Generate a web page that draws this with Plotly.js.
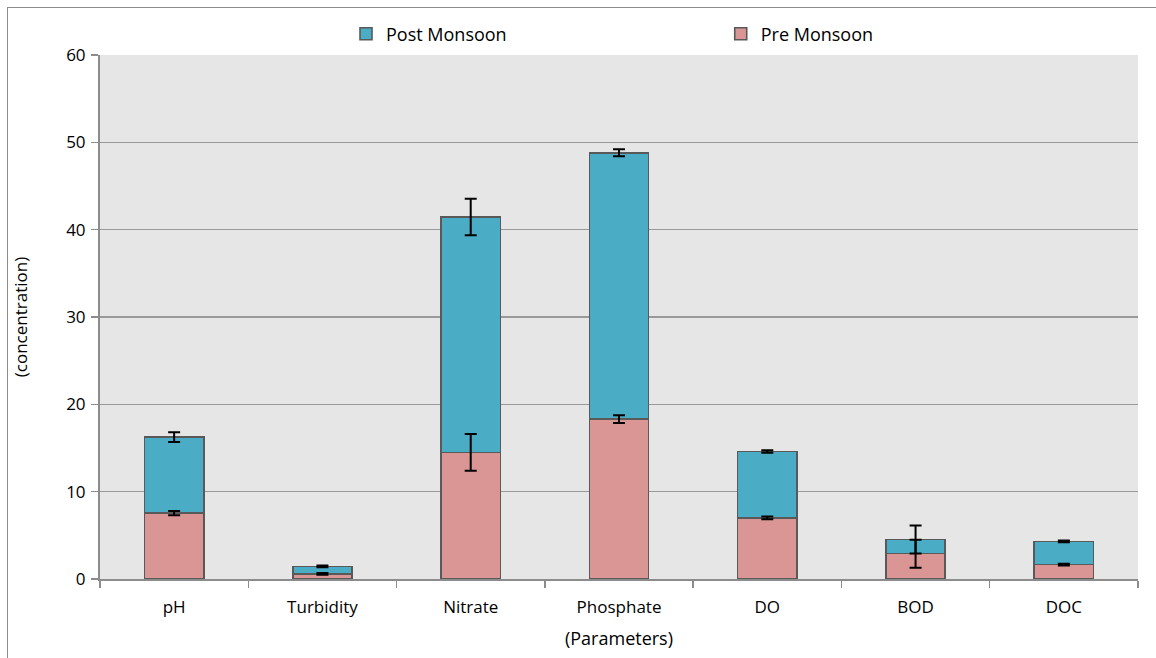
<!DOCTYPE html>
<html>
<head>
<meta charset="utf-8">
<script src="https://cdn.plot.ly/plotly-3.0.1.min.js"></script>
<style>
  html, body { margin: 0; padding: 0; background: #fff; }
  #chart { width: 1156px; height: 658px; position: absolute; left: 0; top: 0; }
  #frame { position: absolute; left: 7px; top: 7px; width: 1160px; height: 660px;
           border-left: 1.5px solid #8c8c8c; border-top: 1.5px solid #8c8c8c;
           pointer-events: none; }
</style>
</head>
<body>
<div id="chart"></div>
<div id="frame"></div>
<script>
const categories = ["pH", "Turbidity", "Nitrate", "Phosphate", "DO", "BOD", "DOC"];
const preMonsoon = [7.55, 0.6, 14.5, 18.3, 7.0, 2.9, 1.65];
const preError = [0.25, 0.1, 2.1, 0.45, 0.15, 1.6, 0.1];
const postMonsoon = [8.7, 0.85, 26.95, 30.5, 7.6, 1.63, 2.65];
const postError = [0.55, 0.1, 2.1, 0.4, 0.15, 1.6, 0.1];
const yTicks = [0, 10, 20, 30, 40, 50, 60];

const stackedTop = preMonsoon.map((v, i) => v + postMonsoon[i]);

const FONT = "'Open Sans', sans-serif";
const SIZE = 17;
const lineStyle = { color: "#595959", width: 1.6 };
const errStyle = { type: "data", visible: true, color: "#000", thickness: 2, width: 6 };

const traces = [
  {
    type: "bar", name: "Pre Monsoon", x: categories, y: preMonsoon, legend: "legend2",
    marker: { color: "#DA9694", line: lineStyle }
  },
  {
    type: "bar", name: "Post Monsoon", x: categories, y: postMonsoon, legend: "legend",
    marker: { color: "#4BACC6", line: lineStyle }
  },
  {
    type: "scatter", mode: "markers", x: categories, y: preMonsoon, showlegend: false,
    marker: { opacity: 0, size: 1 }, error_y: Object.assign({ array: preError }, errStyle)
  },
  {
    type: "scatter", mode: "markers", x: categories, y: stackedTop, showlegend: false,
    marker: { opacity: 0, size: 1 }, error_y: Object.assign({ array: postError }, errStyle)
  }
];

const legendCommon = {
  orientation: "h", yanchor: "middle", y: 1.04, xanchor: "left",
  itemwidth: 30, font: { family: FONT, size: 18 }, bgcolor: "rgba(0,0,0,0)"
};

const layout = {
  width: 1156, height: 658,
  margin: { l: 100, r: 18, t: 55, b: 79, autoexpand: false },
  paper_bgcolor: "#fff",
  plot_bgcolor: "#e6e6e6",
  barmode: "stack",
  bargap: 0.6,
  font: { family: FONT, size: SIZE, color: "#000" },
  showlegend: true,
  legend: Object.assign({ x: 0.237 }, legendCommon),
  legend2: Object.assign({ x: 0.598 }, legendCommon),
  xaxis: {
    type: "category",
    showline: true, linecolor: "#8c8c8c", linewidth: 2,
    ticks: "outside", tickson: "boundaries", ticklen: 7, tickcolor: "#8c8c8c", tickwidth: 1.5,
    ticklabelstandoff: 12,
    showgrid: false,
    title: { text: "(Parameters)", font: { family: FONT, size: 18 }, standoff: 15 }
  },
  yaxis: {
    range: [0, 60], tickvals: yTicks, ticktext: yTicks.map(String),
    showline: true, linecolor: "#8c8c8c", linewidth: 2,
    ticks: "outside", ticklen: 7, tickcolor: "#8c8c8c", tickwidth: 1.5,
    ticklabelstandoff: 2,
    showgrid: true, gridcolor: "#999999", gridwidth: 1.5,
    zeroline: false,
    title: { text: "(concentration)", font: { family: FONT, size: SIZE }, standoff: 34 }
  }
};

Plotly.newPlot("chart", traces, layout, { displayModeBar: false, staticPlot: true });
</script>
</body>
</html>
